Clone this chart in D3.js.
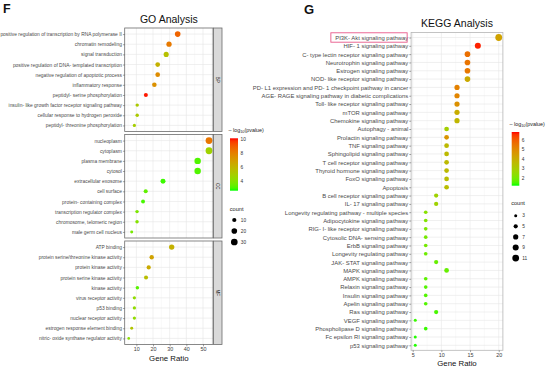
<!DOCTYPE html>
<html>
<head>
<meta charset="utf-8">
<script src="https://cdn.jsdelivr.net/npm/d3@7"></script>
<style>
  body { margin: 0; background: #fff; }
  svg { font-family: "Liberation Sans", Arial, sans-serif; }
</style>
</head>
<body>
<svg id="chart" width="550" height="370"></svg>
<script>
// ---- GO data ----
const bpTerms = [
  "positive regulation of transcription by RNA polymerase II",
  "chromatin remodeling",
  "signal transduction",
  "positive regulation of DNA- templated transcription",
  "negative regulation of apoptotic process",
  "inflammatory response",
  "peptidyl- serine phosphorylation",
  "insulin- like growth factor receptor signaling pathway",
  "cellular response to hydrogen peroxide",
  "peptidyl- threonine phosphorylation"
];
const bpRatio = [34.8, 29.6, 27.9, 22.8, 22.8, 20.8, 15.7, 10.5, 10.5, 8.8];
const bpCount = [20, 17, 16, 13, 13, 12, 9, 6, 6, 5];
const bpLogP = [8.8, 8.2, 5.6, 6.2, 7.6, 7.4, 10.0, 5.2, 5.2, 5.0];

const ccTerms = [
  "nucleoplasm",
  "cytoplasm",
  "plasma membrane",
  "cytosol",
  "extracellular exosome",
  "cell surface",
  "protein- containing complex",
  "transcription regulator complex",
  "chromosome, telomeric region",
  "male germ cell nucleus"
];
const ccRatio = [53.6, 53.6, 46.8, 46.8, 26.0, 15.6, 14.0, 10.4, 10.4, 7.2];
const ccCount = [31, 31, 27, 27, 15, 9, 8, 6, 6, 4];
const ccLogP = [8.3, 4.8, 3.2, 3.2, 3.0, 3.4, 3.1, 3.9, 4.1, 3.8];

const mfTerms = [
  "ATP binding",
  "protein serine/threonine kinase activity",
  "protein kinase activity",
  "protein serine kinase activity",
  "kinase activity",
  "virus receptor activity",
  "p53 binding",
  "nuclear receptor activity",
  "estrogen response element binding",
  "nitric- oxide synthase regulator activity"
];
const mfRatio = [31.2, 19.2, 17.4, 15.8, 10.6, 8.8, 8.8, 8.8, 7.2, 5.4];
const mfCount = [18, 11, 10, 9, 6, 5, 5, 5, 4, 3];
const mfLogP = [6.2, 6.8, 6.5, 5.7, 3.3, 4.4, 4.4, 4.4, 5.4, 4.3];

const goTicks = [10, 20, 30, 40, 50];
const goColorTicks = [4, 6, 8, 10];
const goCountTicks = [10, 20, 30];

// ---- KEGG data ----
const keggTerms = [
  "PI3K- Akt signaling pathway",
  "HIF- 1 signaling pathway",
  "C- type lectin receptor signaling pathway",
  "Neurotrophin signaling pathway",
  "Estrogen signaling pathway",
  "NOD- like receptor signaling pathway",
  "PD- L1 expression and PD- 1 checkpoint pathway in cancer",
  "AGE- RAGE signaling pathway in diabetic complications",
  "Toll- like receptor signaling pathway",
  "mTOR signaling pathway",
  "Chemokine signaling pathway",
  "Autophagy - animal",
  "Prolactin signaling pathway",
  "TNF signaling pathway",
  "Sphingolipid signaling pathway",
  "T cell receptor signaling pathway",
  "Thyroid hormone signaling pathway",
  "FoxO signaling pathway",
  "Apoptosis",
  "B cell receptor signaling pathway",
  "IL- 17 signaling pathway",
  "Longevity regulating pathway - multiple species",
  "Adipocytokine signaling pathway",
  "RIG- I- like receptor signaling pathway",
  "Cytosolic DNA- sensing pathway",
  "ErbB signaling pathway",
  "Longevity regulating pathway",
  "JAK- STAT signaling pathway",
  "MAPK signaling pathway",
  "AMPK signaling pathway",
  "Relaxin signaling pathway",
  "Insulin signaling pathway",
  "Apelin signaling pathway",
  "Ras signaling pathway",
  "VEGF signaling pathway",
  "Phospholipase D signaling pathway",
  "Fc epsilon RI signaling pathway",
  "p53 signaling pathway"
];
const keggRatio = [20.0, 16.36, 14.55, 14.55, 14.55, 14.55, 12.73, 12.73, 12.73, 12.73,
  12.73, 10.91, 10.91, 10.91, 10.91, 10.91, 10.91, 10.91, 10.91, 9.09,
  9.09, 7.27, 7.27, 7.27, 7.27, 7.27, 7.27, 9.09, 10.91, 7.27,
  7.27, 7.27, 7.27, 9.09, 5.45, 7.27, 5.45, 5.45];
const keggCount = [11, 9, 8, 8, 8, 8, 7, 7, 7, 7,
  7, 6, 6, 6, 6, 6, 6, 6, 6, 5,
  5, 4, 4, 4, 4, 4, 4, 5, 6, 4,
  4, 4, 4, 5, 3, 4, 3, 3];
const keggLogP = [4.3, 6.7, 5.6, 5.5, 5.4, 4.1, 5.2, 5.1, 4.8, 4.0,
  3.7, 2.9, 4.7, 3.6, 3.6, 3.6, 3.6, 3.5, 3.5, 2.8,
  2.8, 2.3, 2.2, 2.1, 2.0, 2.0, 1.9, 1.8, 1.8, 1.7,
  1.6, 1.6, 1.6, 1.5, 1.4, 1.4, 1.3, 1.3];
const keggTicks = [5, 10, 15, 20];
const keggColorTicks = [2, 3, 4, 5, 6];
const keggCountTicks = [3, 5, 7, 9, 11];

const svg = d3.select("#chart");
const defs = svg.append("defs");

// ggplot-like expansion of a continuous range
function expand(values, mult) {
  const ext = d3.extent(values);
  const pad = (ext[1] - ext[0]) * mult;
  return [ext[0] - pad, ext[1] + pad];
}

function greenRed(domain) {
  return d3.scaleLinear()
    .domain(domain)
    .range(["#00ff00", "#ff0000"])
    .interpolate(d3.interpolateLab)
    .clamp(true);
}

function sizeScale(counts, range) {
  const s = d3.scaleLinear()
    .domain(d3.extent(counts).map(Math.sqrt))
    .range(range);
  return c => s(Math.sqrt(c));
}

// draws one panel of dots with its y axis
function dotPanel(o) {
  const g = svg.append("g");
  const x = o.x;
  const y = d3.scalePoint().domain(o.terms).range([o.top, o.bottom]).padding(0.6);

  g.append("rect")
    .attr("x", o.left).attr("y", o.top)
    .attr("width", o.right - o.left).attr("height", o.bottom - o.top)
    .attr("fill", "#fff");

  g.selectAll(".minor").data(o.minor).join("line")
    .attr("x1", d => x(d)).attr("x2", d => x(d))
    .attr("y1", o.top).attr("y2", o.bottom)
    .attr("stroke", "#f0f0f0").attr("stroke-width", 0.4);

  g.selectAll(".vmajor").data(o.ticks).join("line")
    .attr("x1", d => x(d)).attr("x2", d => x(d))
    .attr("y1", o.top).attr("y2", o.bottom)
    .attr("stroke", "#e6e6e6").attr("stroke-width", 0.6);

  g.selectAll(".hmajor").data(o.terms).join("line")
    .attr("x1", o.left).attr("x2", o.right)
    .attr("y1", d => y(d)).attr("y2", d => y(d))
    .attr("stroke", "#e6e6e6").attr("stroke-width", 0.6);

  const rows = o.terms.map((t, i) => ({
    term: t, ratio: o.ratio[i], count: o.count[i], logp: o.logp[i]
  }));

  g.selectAll("circle").data(rows).join("circle")
    .attr("cx", d => x(d.ratio))
    .attr("cy", d => y(d.term))
    .attr("r", d => o.size(d.count))
    .attr("fill", d => o.color(d.logp));

  g.append("rect")
    .attr("x", o.left).attr("y", o.top)
    .attr("width", o.right - o.left).attr("height", o.bottom - o.top)
    .attr("fill", "none").attr("stroke", o.border).attr("stroke-width", 0.8);

  const ax = g.append("g")
    .attr("transform", "translate(" + o.left + ",0)")
    .call(d3.axisLeft(y).tickSize(1.8).tickPadding(1));
  ax.attr("font-size", o.fontSize).attr("font-family", null);
  ax.select(".domain").remove();
  ax.selectAll("line").attr("stroke", "#444").attr("stroke-width", 0.5);
  ax.selectAll("text").attr("fill", "#4a4a4a");

  return { g: g, y: y, ax: ax };
}

function xAxis(x, ticks, yPos, titleY) {
  const ax = svg.append("g")
    .attr("transform", "translate(0," + yPos + ")")
    .call(d3.axisBottom(x).tickValues(ticks).tickSize(1.8).tickPadding(1));
  ax.attr("font-size", 5.4).attr("font-family", null);
  ax.select(".domain").remove();
  ax.selectAll("line").attr("stroke", "#444").attr("stroke-width", 0.5);
  ax.selectAll("text").attr("fill", "#3a3a3a");
  const r = x.range();
  svg.append("text")
    .attr("x", (r[0] + r[1]) / 2).attr("y", titleY)
    .attr("text-anchor", "middle").attr("font-size", 7.8).attr("fill", "#111")
    .text("Gene Ratio");
}

function colorLegend(o) {
  const grad = defs.append("linearGradient").attr("id", o.id)
    .attr("x1", 0).attr("y1", 1).attr("x2", 0).attr("y2", 0);
  d3.range(0, 1.0001, 0.05).forEach(t => {
    grad.append("stop").attr("offset", t)
      .attr("stop-color", o.color(o.domain[0] + t * (o.domain[1] - o.domain[0])));
  });
  const title = svg.append("text")
    .attr("x", o.titleX).attr("y", o.titleY)
    .attr("font-size", 5.4).attr("fill", "#222");
  title.append("tspan").text("\u2013 log");
  title.append("tspan").attr("font-size", 3.8).attr("dy", 1.3).text("10");
  title.append("tspan").attr("dy", -1.3).text("(pvalue)");

  svg.append("rect")
    .attr("x", o.x).attr("y", o.y).attr("width", o.w).attr("height", o.h)
    .attr("fill", "url(#" + o.id + ")");
  const s = d3.scaleLinear().domain(o.domain).range([o.y + o.h, o.y]);
  svg.selectAll(null).data(o.ticks).join("text")
    .attr("x", o.x + o.w + 2.5).attr("y", d => s(d)).attr("dy", "0.35em")
    .attr("font-size", 4.8).attr("fill", "#333")
    .text(d => d);
}

function sizeLegend(o) {
  svg.append("text").attr("x", o.x - 4.5).attr("y", o.titleY)
    .attr("font-size", 5.6).attr("fill", "#222").text("count");
  o.ticks.forEach((c, i) => {
    const cy = o.y0 + i * o.step;
    svg.append("circle").attr("cx", o.x).attr("cy", cy).attr("r", o.size(c)).attr("fill", "#000");
    svg.append("text").attr("x", o.x + 6.5).attr("y", cy).attr("dy", "0.35em")
      .attr("font-size", 4.8).attr("fill", "#333").text(c);
  });
}

// ================= GO panel =================
const goLeft = 124.7, goRight = 213;
const goX = d3.scaleLinear()
  .domain(expand(bpRatio.concat(ccRatio, mfRatio), 0.05))
  .range([goLeft, goRight]);
const goColor = greenRed([2.75, 10.1]);
const goSize = sizeScale(bpCount.concat(ccCount, mfCount), [1.35, 3.4]);
const goMinor = [5, 15, 25, 35, 45, 55];

const facets = [
  { label: "BP", terms: bpTerms, ratio: bpRatio, count: bpCount, logp: bpLogP, top: 28, bottom: 131.5 },
  { label: "CC", terms: ccTerms, ratio: ccRatio, count: ccCount, logp: ccLogP, top: 134.5, bottom: 238 },
  { label: "MF", terms: mfTerms, ratio: mfRatio, count: mfCount, logp: mfLogP, top: 241, bottom: 344.5 }
];

facets.forEach(f => {
  dotPanel({
    terms: f.terms, ratio: f.ratio, count: f.count, logp: f.logp,
    x: goX, left: goLeft, right: goRight, top: f.top, bottom: f.bottom,
    ticks: goTicks, minor: goMinor, size: goSize, color: goColor,
    border: "#6b6b6b", fontSize: 4.9
  });
  // strip on the right
  svg.append("rect")
    .attr("x", goRight + 0.5).attr("y", f.top)
    .attr("width", 8.5).attr("height", f.bottom - f.top)
    .attr("fill", "#d9d9d9").attr("stroke", "#6b6b6b").attr("stroke-width", 0.8);
  svg.append("text")
    .attr("transform", "translate(" + (goRight + 4.75) + "," + ((f.top + f.bottom) / 2) + ") rotate(90)")
    .attr("text-anchor", "middle").attr("dy", "0.35em")
    .attr("font-size", 4.5).attr("fill", "#222")
    .text(f.label);
});

xAxis(goX, goTicks, 344.5, 361);

svg.append("text").attr("x", (goLeft + goRight) / 2).attr("y", 22.8)
  .attr("text-anchor", "middle").attr("font-size", 10.5).attr("fill", "#111")
  .text("GO Analysis");
svg.append("text").attr("x", 3).attr("y", 13).attr("font-size", 12.5)
  .attr("font-weight", "bold").attr("fill", "#111").text("F");

colorLegend({
  id: "goGrad", color: goColor, domain: [2.75, 10.1], ticks: goColorTicks,
  x: 230, y: 138.3, w: 8, h: 52.4, titleX: 228.5, titleY: 131.8
});
sizeLegend({
  x: 234.3, y0: 220, step: 11, ticks: goCountTicks, size: goSize, titleY: 210.5
});

// ================= KEGG panel =================
const kLeft = 411.1, kRight = 502.9;
const kX = d3.scaleLinear().domain(expand(keggRatio, 0.05)).range([kLeft, kRight]);
const kColor = greenRed([1.23, 6.83]);
const kSize = sizeScale(keggCount, [1.5, 3.4]);

const kp = dotPanel({
  terms: keggTerms, ratio: keggRatio, count: keggCount, logp: keggLogP,
  x: kX, left: kLeft, right: kRight, top: 32.5, bottom: 350.3,
  ticks: keggTicks, minor: [7.5, 12.5, 17.5], size: kSize, color: kColor,
  border: "#b5b5b5", fontSize: 5.9
});

// highlight box around the first pathway label
const hl = kp.ax.selectAll(".tick text").filter(d => d === keggTerms[0]).node().getBBox();
const hlY = kp.y(keggTerms[0]);
svg.append("rect")
  .attr("x", kLeft - 2.8 + hl.x - 1.6).attr("y", hlY - 4.7)
  .attr("width", hl.width + 3.2).attr("height", 9.4)
  .attr("fill", "none").attr("stroke", "#e8588a").attr("stroke-width", 0.9);

xAxis(kX, keggTicks, 350.3, 366);

svg.append("text").attr("x", (kLeft + kRight) / 2).attr("y", 27)
  .attr("text-anchor", "middle").attr("font-size", 10.5).attr("fill", "#111")
  .text("KEGG Analysis");
svg.append("text").attr("x", 304).attr("y", 14).attr("font-size", 13)
  .attr("font-weight", "bold").attr("fill", "#111").text("G");

colorLegend({
  id: "kGrad", color: kColor, domain: [1.23, 6.83], ticks: keggColorTicks,
  x: 511.7, y: 132, w: 7.6, h: 53.7, titleX: 509.5, titleY: 125.5
});
sizeLegend({
  x: 515.7, y0: 215.7, step: 10.6, ticks: keggCountTicks, size: kSize, titleY: 204.5
});
</script>
</body>
</html>
